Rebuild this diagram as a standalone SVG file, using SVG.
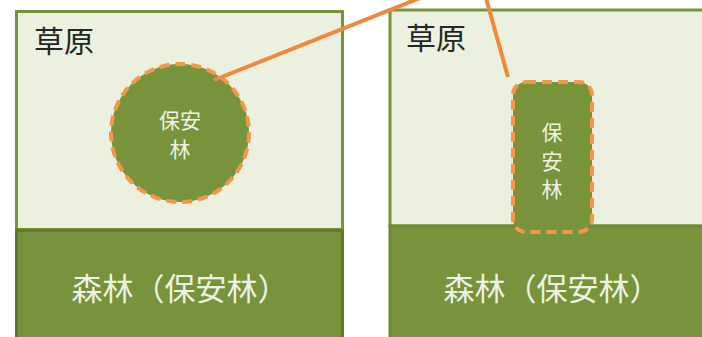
<svg xmlns="http://www.w3.org/2000/svg" width="702" height="337" viewBox="0 0 702 337">
<style>
.grass{fill:#ebf1de;stroke:#77933c;stroke-width:3}
.forest{fill:#77933c;stroke:#5f7a2e;stroke-width:3}
.forest2{fill:#77933c;stroke:#6e8a36;stroke-width:3}
.reserve{fill:#77933c;stroke:#f79646;stroke-width:4;stroke-dasharray:10 6}
.lbl{font-family:"Noto Sans CJK JP","Noto Sans CJK SC",sans-serif;fill:#262626;font-size:30px}
.wlbl{font-family:"Noto Sans CJK JP","Noto Sans CJK SC",sans-serif;fill:#eef2e4;font-size:31px;text-anchor:middle}
.slbl{font-family:"Noto Sans CJK JP","Noto Sans CJK SC",sans-serif;fill:#eef2e4;font-size:21px;text-anchor:middle}
.conn{stroke:#f0883e;stroke-width:4;fill:none}
</style>
<rect width="702" height="337" fill="#ffffff"/>
<g id="left-panel">
  <rect id="left-grass" class="grass" x="16.5" y="11.5" width="326" height="218"/>
  <rect id="left-forest" class="forest" x="16.5" y="230.5" width="326" height="120"/>
  <text class="lbl" x="34" y="52">草原</text>
  <text class="wlbl" x="180" y="300">森林（保安林）</text>
</g>
<g id="left-reserve">
  <circle class="reserve" cx="180" cy="133" r="69"/>
  <text class="slbl" x="180" y="128">保安</text>
  <text class="slbl" x="180" y="157">林</text>
</g>
<g id="right-panel">
  <rect id="right-grass" class="grass" x="390" y="10" width="330" height="216"/>
  <rect id="right-forest" class="forest2" x="390" y="226" width="330" height="120"/>
  <text class="lbl" x="406" y="49">草原</text>
  <text class="wlbl" x="552" y="300">森林（保安林）</text>
</g>
<g id="right-reserve">
  <rect class="reserve" x="513" y="82" width="79" height="150" rx="13"/>
  <text class="slbl" x="552" y="140">保</text>
  <text class="slbl" x="552" y="169">安</text>
  <text class="slbl" x="552" y="197">林</text>
</g>
<g id="connectors">
  <line class="conn" x1="214" y1="80" x2="420" y2="-2"/>
  <line class="conn" x1="508" y1="77" x2="486" y2="-2"/>
</g>
</svg>
